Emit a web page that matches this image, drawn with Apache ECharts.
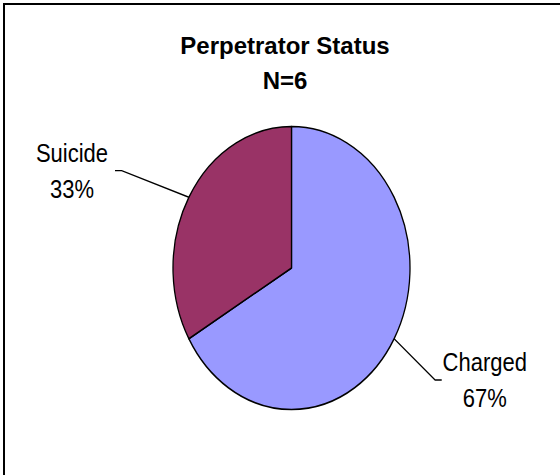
<!DOCTYPE html>
<html>
<head>
<meta charset="utf-8">
<script src="https://cdn.jsdelivr.net/npm/echarts@6/dist/echarts.min.js"></script>
<style>
  html, body { margin: 0; padding: 0; background: #fff; }
  .wrap { position: relative; width: 560px; height: 475px; overflow: hidden; background: #fff; }
  /* chart frame: only the top and left edges fall inside the picture */
  .frame { position: absolute; left: 3px; top: 3px; width: 600px; height: 520px;
           border-left: 2px solid #000; border-top: 2px solid #000; }
  /* the original pie is an ellipse, so the pie layer is stretched vertically */
  #pie { position: absolute; left: 0; top: 0; width: 560px; height: 475px;
         transform: scaleY(1.194); transform-origin: 0 268px; }
  #title { position: absolute; left: 0; top: 0; width: 560px; height: 475px; }
</style>
</head>
<body>
<div class="wrap">
  <div class="frame"></div>
  <div id="pie"></div>
  <div id="title"></div>
</div>
<script>
// data
var categories = ['Charged', 'Suicide']
var counts = [4, 2]
var sliceColors = ['#9999FF', '#993366']

// leader line shape per slice (offsets from the slice edge point)
var leaderOffsets = [
  { midX: 41, midY: 34.5, endX: 47.6, align: 'left' },
  { midX: -67.2, midY: -22.3, endX: -73.9, align: 'right' }
]

var pieChart = echarts.init(document.getElementById('pie'), null, { renderer: 'svg' })
var titleChart = echarts.init(document.getElementById('title'), null, { renderer: 'svg' })

pieChart.setOption({
  animation: false,
  series: [{
    type: 'pie',
    center: [291.5, 268],
    radius: 118.5,
    startAngle: 90,
    clockwise: true,
    percentPrecision: 0,
    emphasis: { disabled: true },
    itemStyle: { borderColor: '#000', borderWidth: 1.3 },
    label: {
      show: true,
      position: 'outside',
      formatter: '{t|{b}}\n{t|{d}%}',
      rich: {
        t: {
          width: 84,
          align: 'center',
          fontFamily: 'Liberation Sans, Arial, sans-serif',
          fontSize: 22,
          lineHeight: 30,
          color: '#000'
        }
      }
    },
    labelLine: { show: true, length: 20, length2: 10, lineStyle: { color: '#000', width: 1.2 } },
    labelLayout: function (p) {
      var pts = p.labelLinePoints
      if (!pts) return {}
      var o = leaderOffsets[p.dataIndex]
      var e = pts[0]
      var mid = [e[0] + o.midX, e[1] + o.midY]
      var end = [e[0] + o.endX, e[1] + o.midY]
      return {
        x: end[0] + (o.align === 'left' ? 1 : -1),
        y: end[1],
        align: o.align,
        verticalAlign: 'middle',
        labelLinePoints: [e, mid, end]
      }
    },
    data: categories.map(function (name, i) {
      return { name: name, value: counts[i], itemStyle: { color: sliceColors[i] } }
    })
  }]
})

titleChart.setOption({
  animation: false,
  backgroundColor: 'transparent',
  title: {
    text: 'Perpetrator Status\nN=6',
    left: 280,
    textAlign: 'center',
    top: 23,
    textStyle: {
      fontFamily: 'Liberation Sans, Arial, sans-serif',
      fontWeight: 'bold',
      fontSize: 24,
      lineHeight: 35,
      color: '#000'
    }
  }
})
</script>
</body>
</html>
